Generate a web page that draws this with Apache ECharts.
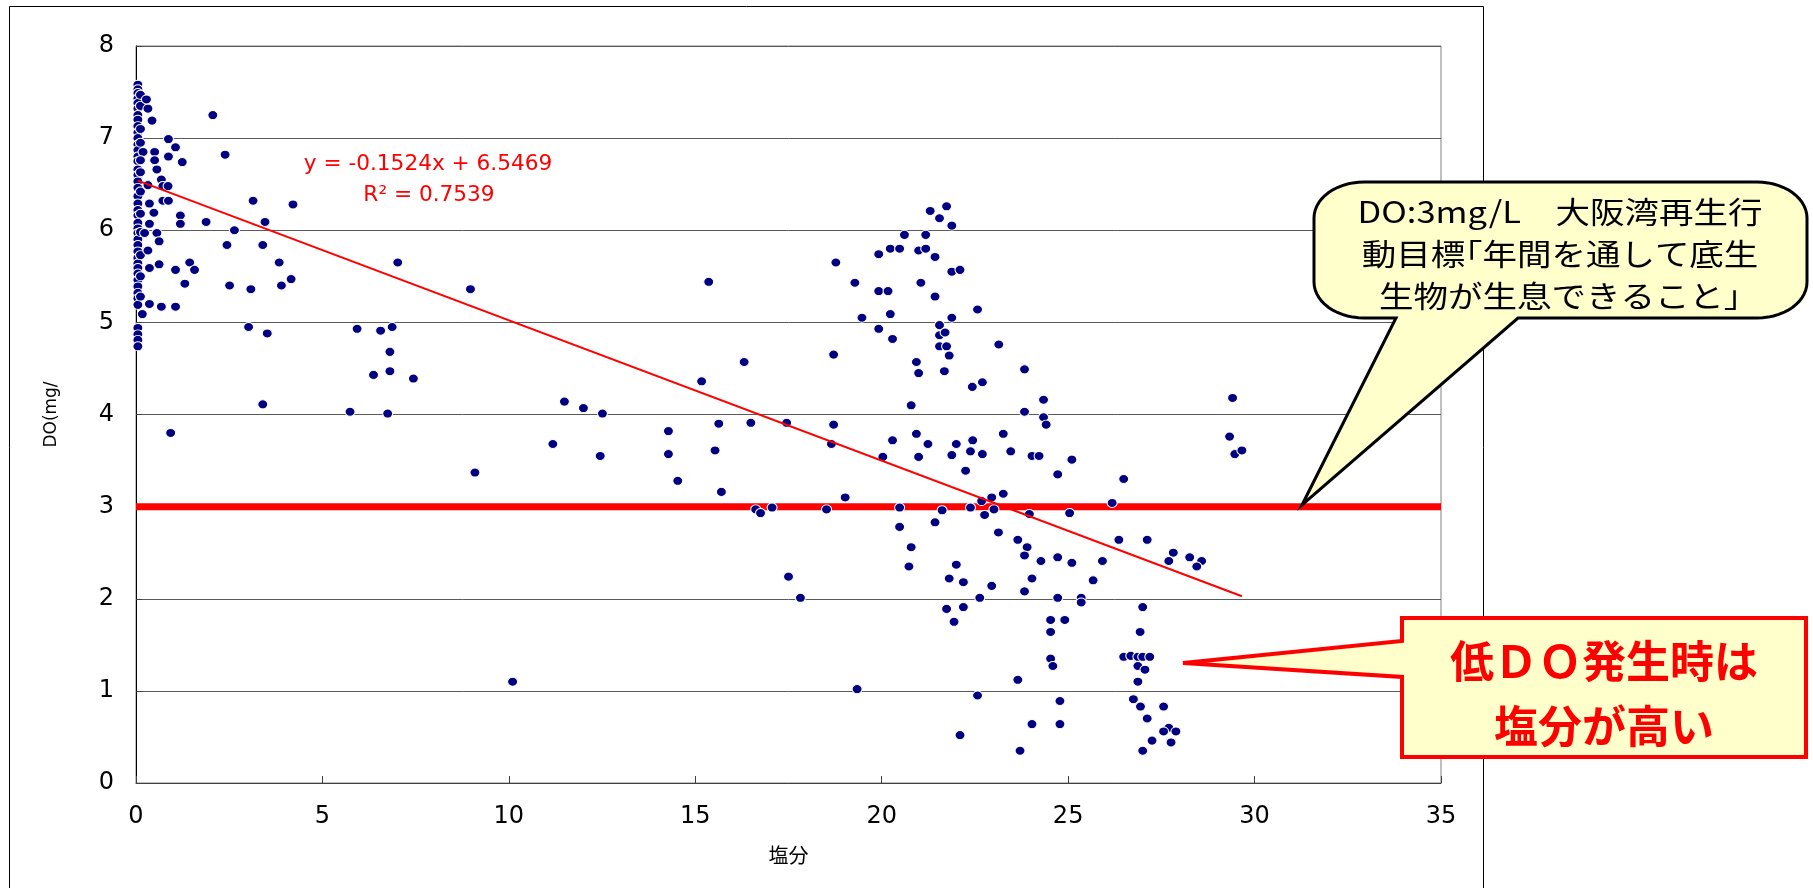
<!DOCTYPE html>
<html>
<head>
<meta charset="utf-8">
<title>塩分とDO</title>
<script src="https://cdn.jsdelivr.net/npm/echarts@6/dist/echarts.min.js"></script>
<style>
  html, body { margin: 0; padding: 0; background: #ffffff; }
  #chart { width: 1813px; height: 888px; }
</style>
</head>
<body>
<div id="chart"></div>
<script>
// Salinity (塩分) of each sample
const salinity = [
  // near-fresh samples
  0.05, 0.05, 0.05, 0.05, 0.05, 0.05, 0.05, 0.05, 0.05, 0.05, 0.05, 0.05, 0.05, 0.05,
  0.05, 0.05, 0.05, 0.05, 0.05, 0.05, 0.05, 0.05, 0.05, 0.05, 0.05, 0.05, 0.05, 0.05,
  0.05, 0.05, 0.05, 0.05, 0.05, 0.05, 0.05, 0.05, 0.05, 0.05, 0.05, 0.05, 0.05, 0.05,
  0.12, 0.12, 0.12, 0.12, 0.12, 0.12, 0.12, 0.12, 0.12, 0.12, 0.12,
  0.19, 0.32, 0.43, 0.28, 0.50, 0.50, 0.56, 0.12, 0.68, 0.32, 0.72, 0.86, 0.87, 1.06,
  0.87, 1.24, 0.36, 0.72, 0.87, 0.48, 0.36, 1.19, 1.19, 0.23, 0.56, 0.62, 0.32, 0.36,
  0.62, 1.06, 1.44, 1.57, 1.31, 0.36, 0.68, 1.06, 0.17, 0.93,
  // 2 - 10
  2.06, 2.39, 3.14, 4.21, 3.46, 1.88, 2.64, 2.44, 3.40, 3.84, 4.16, 3.90, 2.51, 3.08,
  3.02, 3.52, 3.40, 7.02, 8.97, 5.93, 6.56, 6.87, 6.81, 6.81, 6.37, 7.44, 5.74, 6.75,
  // 10 - 19
  11.49, 12.00, 12.51, 11.18, 15.36, 15.17, 14.28, 15.63, 12.45, 14.28, 15.53, 9.09,
  14.53, 15.70, 10.10, 16.31, 16.49, 17.45, 18.71, 18.65, 18.71, 18.77, 19.28, 19.47,
  // 19 - 22.5
  19.92, 20.23, 20.48, 20.61, 19.92, 20.17, 20.23, 19.92, 20.29, 20.93, 20.99, 20.79,
  20.93, 20.29, 20.03, 20.99, 21.24, 21.30, 21.74, 21.55, 21.88, 21.18, 20.99, 21.18,
  21.43, 21.88, 22.10, 21.05, 21.43, 21.88, 21.55, 21.55, 21.70, 21.55, 21.74, 21.81,
  21.68, 21.88, 22.00, 19.02, 16.62, 16.75, 17.06, 18.52, 20.48, 21.62, 20.48, 21.43,
  20.79, 20.73, 22.00, 21.81, 17.50, 17.82, 21.74, 21.94, 19.34, 22.10,
  // 22.5 - 30
  22.57, 23.14, 23.83, 22.43, 22.70, 24.34, 23.83, 24.34, 24.41, 23.26, 22.44, 22.38,
  22.70, 23.46, 24.03, 24.22, 25.10, 22.25, 24.72, 26.49, 23.26, 22.95, 26.18, 22.68,
  22.38, 23.01, 22.76, 23.96, 25.04, 23.13, 23.65, 23.90, 23.83, 24.27, 24.72, 25.10,
  25.92, 26.36, 27.12, 27.82, 27.70, 28.26, 28.58, 28.45, 22.19, 22.95, 24.03, 23.83,
  25.67, 22.63, 24.72, 25.35, 25.35, 22.19, 27.00, 24.53, 24.91, 24.53, 26.93, 24.53,
  24.59, 26.49, 26.68, 26.87, 27.00, 27.19, 26.87, 27.06, 26.87, 23.65, 22.57, 24.78,
  26.75, 26.94, 27.56, 27.12, 24.03, 24.78, 27.70, 27.56, 27.89, 27.25, 27.76, 23.71,
  27.00, 29.41, 29.33, 29.47, 29.66
];

// Dissolved oxygen DO (mg/L) of the same samples
const doMgL = [
  7.58, 7.53, 7.49, 7.43, 7.38, 7.32, 7.25, 7.20, 7.13, 7.06, 7.00, 6.93, 6.87, 6.80,
  6.75, 6.66, 6.60, 6.53, 6.46, 6.37, 6.29, 6.22, 6.16, 6.08, 6.02, 5.97, 5.90, 5.84,
  5.77, 5.70, 5.64, 5.59, 5.53, 5.46, 5.39, 5.32, 5.26, 5.19, 4.94, 4.87, 4.81, 4.74,
  7.47, 7.35, 7.10, 6.95, 6.63, 6.42, 6.18, 5.98, 5.73, 5.50, 5.28,
  6.85, 7.32, 7.19, 7.42, 6.85, 6.76, 6.66, 6.76, 6.55, 6.49, 6.48, 6.48, 6.99, 6.90,
  6.80, 6.74, 6.29, 6.32, 6.32, 6.19, 6.07, 6.16, 6.07, 5.97, 5.97, 5.88, 5.78, 5.59,
  5.63, 5.57, 5.65, 5.57, 5.42, 5.20, 5.17, 5.17, 5.09, 3.80,
  7.25, 6.82, 6.32, 6.28, 6.09, 6.09, 6.00, 5.84, 5.84, 5.65, 5.47, 5.40, 5.40, 5.36,
  4.95, 4.88, 4.11, 5.65, 5.36, 4.93, 4.91, 4.95, 4.68, 4.47, 4.43, 4.39, 4.03, 4.01,
  4.14, 4.07, 4.01, 3.68, 5.44, 4.36, 3.82, 3.90, 3.55, 3.57, 3.61, 3.37,
  3.28, 3.16, 1.10, 4.57, 3.91, 3.91, 3.89, 3.68, 4.65, 5.65, 5.43, 5.05,
  5.74, 5.80, 5.80, 5.95, 5.34, 5.34, 5.09, 4.93, 4.82, 4.57, 4.45, 4.10,
  3.79, 3.72, 3.54, 3.54, 3.68, 6.21, 6.26, 6.13, 6.05, 5.95, 5.78, 5.80,
  5.71, 5.55, 5.57, 5.43, 5.28, 5.05, 4.97, 4.86, 4.89, 4.74, 4.74, 4.64,
  4.47, 3.56, 3.68, 3.10, 2.97, 2.93, 2.99, 2.97, 2.99, 2.96, 2.78, 2.83,
  2.56, 2.35, 2.37, 2.22, 2.24, 2.01, 1.89, 1.75, 1.02, 0.52,
  5.14, 4.76, 4.49, 4.30, 4.35, 4.16, 4.03, 3.97, 3.89, 3.79, 3.72, 3.60,
  3.57, 3.60, 3.55, 3.55, 3.51, 3.39, 3.35, 3.30, 3.14, 3.10, 3.04, 3.06,
  2.99, 2.97, 2.91, 2.92, 2.93, 2.72, 2.64, 2.56, 2.47, 2.41, 2.45, 2.39,
  2.41, 2.64, 2.64, 2.50, 2.41, 2.45, 2.41, 2.35, 2.18, 2.14, 2.22, 2.08,
  2.20, 2.01, 2.01, 2.01, 1.96, 1.91, 1.91, 1.77, 1.77, 1.64, 1.64, 1.35,
  1.27, 1.37, 1.38, 1.37, 1.37, 1.37, 1.27, 1.23, 1.10, 1.12, 0.95, 0.89,
  0.91, 0.83, 0.83, 0.70, 0.64, 0.64, 0.60, 0.56, 0.56, 0.46, 0.44, 0.35,
  0.35, 4.18, 3.76, 3.57, 3.61
];

// Axis ranges and tick steps
const xRange = [0, 35];
const xStep = 5;
const yRange = [0, 8];
const yStep = 1;

// Linear regression of DO on salinity
const trendSlope = -0.1524;
const trendIntercept = 6.5469;
const trendR2 = 0.7539;

// Osaka Bay target level, DO 3 mg/L
const doTarget = 3;

const points = salinity.map((s, i) => [s, doMgL[i]]);
const sMin = Math.min(...salinity);
const sMax = Math.max(...salinity);
const trendLine = [sMin, sMax].map(s => [s, trendSlope * s + trendIntercept]);
const targetLine = xRange.map(s => [s, doTarget]);

// Rounded speech-bubble outline with a pointer on its bottom edge
function bubbleOutline(L, T, R, B, rx, ry, baseLeft, baseRight, tip) {
  const pts = [];
  const arc = (cx, cy, a0, a1) => {
    const n = 14;
    for (let k = 0; k <= n; k++) {
      const a = a0 + (a1 - a0) * k / n;
      pts.push([cx + rx * Math.cos(a), cy + ry * Math.sin(a)]);
    }
  };
  arc(R - rx, T + ry, -Math.PI / 2, 0);
  arc(R - rx, B - ry, 0, Math.PI / 2);
  pts.push([baseRight, B], tip, [baseLeft, B]);
  arc(L + rx, B - ry, Math.PI / 2, Math.PI);
  arc(L + rx, T + ry, Math.PI, Math.PI * 1.5);
  return pts;
}

const chart = echarts.init(document.getElementById('chart'), null, { renderer: 'canvas' });

const latin = '"DejaVu Sans", "Liberation Sans", sans-serif';
const cjk = '"Noto Sans CJK JP", "Noto Sans", sans-serif';

chart.setOption({
  backgroundColor: '#ffffff',
  animation: false,
  grid: {
    left: 136, right: 372, top: 46, bottom: 105,
    show: true, borderColor: '#808080', borderWidth: 1
  },
  xAxis: {
    type: 'value',
    min: xRange[0], max: xRange[1], interval: xStep,
    name: '塩分',
    nameLocation: 'middle',
    nameGap: 62,
    nameTextStyle: { fontFamily: cjk, fontSize: 20, color: '#000' },
    axisLine: { show: true, onZero: false, lineStyle: { color: '#404040', width: 1 } },
    axisTick: { show: true, inside: true, length: 7, lineStyle: { color: '#404040' } },
    axisLabel: { fontFamily: latin, fontSize: 24, color: '#000', margin: 22 },
    splitLine: { show: false }
  },
  yAxis: {
    type: 'value',
    min: yRange[0], max: yRange[1], interval: yStep,
    name: 'DO(mg/',
    nameLocation: 'middle',
    nameRotate: 90,
    nameGap: 76,
    nameTextStyle: { fontFamily: latin, fontSize: 17, color: '#000' },
    axisLine: { show: true, onZero: false, lineStyle: { color: '#000', width: 1 } },
    axisTick: { show: true, inside: true, length: 6, lineStyle: { color: '#404040' } },
    axisLabel: { fontFamily: latin, fontSize: 24, color: '#000', margin: 22 },
    splitLine: { show: true, lineStyle: { color: '#5a5a5a', width: 1 } }
  },
  series: [
    {
      name: 'DO 3mg/L',
      type: 'line',
      data: targetLine,
      symbol: 'none',
      silent: true,
      z: 2,
      lineStyle: { color: '#ff0000', width: 7 }
    },
    {
      name: 'DO',
      type: 'scatter',
      data: points,
      symbol: 'circle',
      symbolSize: [10, 9],
      z: 3,
      itemStyle: { color: '#000080', borderColor: '#ffffff', borderWidth: 1, opacity: 1 }
    },
    {
      name: '線形近似',
      type: 'line',
      data: trendLine,
      symbol: 'none',
      silent: true,
      z: 4,
      lineStyle: { color: '#ff0000', width: 2 }
    }
  ],
  graphic: [
    {
      type: 'rect', z: 0, silent: true,
      shape: { x: 9.5, y: 6.5, width: 1474, height: 900 },
      style: { fill: 'none', stroke: '#000', lineWidth: 1 }
    },
    {
      type: 'text', z: 10, x: 428, y: 165, scaleX: 1.03,
      style: {
        text: 'y = ' + trendSlope + 'x + ' + trendIntercept,
        font: '21px ' + latin, fill: '#ff0000', align: 'center', verticalAlign: 'middle'
      }
    },
    {
      type: 'text', z: 10, x: 429, y: 196, scaleX: 1.03,
      style: {
        text: 'R² = ' + trendR2,
        font: '21px ' + latin, fill: '#ff0000', align: 'center', verticalAlign: 'middle'
      }
    },
    {
      type: 'polygon', z: 100, silent: true,
      shape: { points: bubbleOutline(1314, 182, 1807, 318, 50, 36, 1396, 1518, [1302, 505]) },
      style: { fill: '#ffffcc', stroke: '#000', lineWidth: 3, lineJoin: 'miter' }
    },
    {
      type: 'text', z: 101, x: 1560, y: 254, scaleX: 1.15,
      style: {
        text: 'DO:3mg/L　大阪湾再生行\n動目標｢年間を通して底生\n生物が生息できること｣',
        font: '30px ' + cjk, fill: '#000', align: 'center', verticalAlign: 'middle', lineHeight: 42
      }
    },
    {
      type: 'polygon', z: 100, silent: true,
      shape: { points: [[1402, 618], [1806, 618], [1806, 757], [1402, 757], [1402, 677], [1183, 663], [1402, 641]] },
      style: { fill: '#ffffcc', stroke: '#ff0000', lineWidth: 4, lineJoin: 'miter' }
    },
    {
      type: 'text', z: 101, x: 1604, y: 694,
      style: {
        text: '低ＤＯ発生時は\n塩分が高い',
        font: 'bold 44px ' + cjk, fill: '#ff0000', align: 'center', verticalAlign: 'middle', lineHeight: 65
      }
    }
  ]
});
</script>
</body>
</html>
